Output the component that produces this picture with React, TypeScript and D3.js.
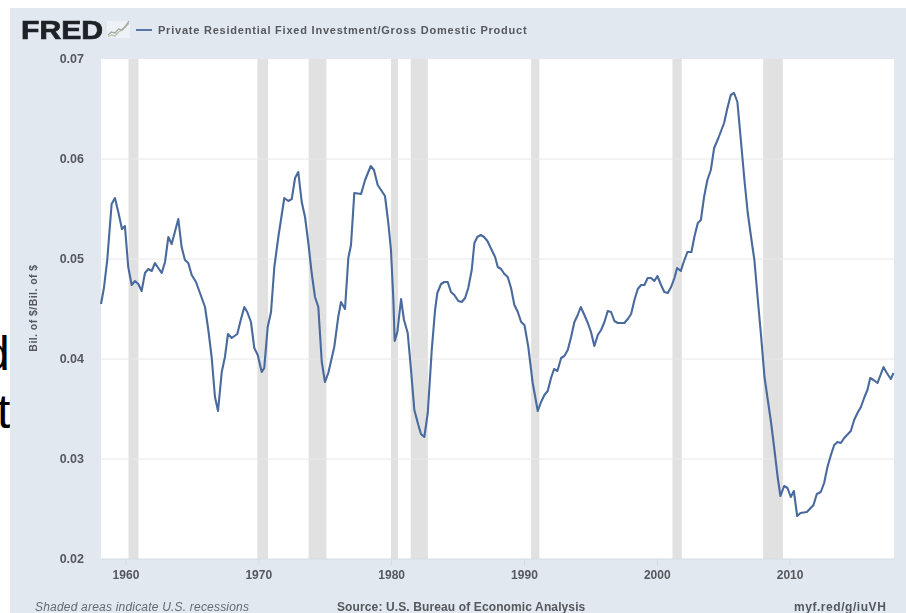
import React from "react";
import * as d3 from "d3";

const W = 906, H = 613;
const title = "Private Residential Fixed Investment/Gross Domestic Product";
const yAxisLabel = "Bil. of $/Bil. of $";
const yTicks = [0.02, 0.03, 0.04, 0.05, 0.06, 0.07];
const xTicks = [1960, 1970, 1980, 1990, 2000, 2010];
const recessions = [
  [1960.19, 1960.94], [1969.89, 1970.69], [1973.75, 1975.09], [1979.95, 1980.48],
  [1981.44, 1982.73], [1990.5, 1991.12], [2001.14, 2001.84], [2007.97, 2009.45],
];
const years = [
  1958.12, 1958.34, 1958.59, 1958.92, 1959.17, 1959.42, 1959.70, 1959.92, 1960.17, 1960.43,
  1960.68, 1960.93, 1961.18, 1961.43, 1961.68, 1961.94, 1962.18, 1962.43, 1962.69, 1962.94,
  1963.19, 1963.44, 1963.94, 1964.19, 1964.44, 1964.69, 1964.95, 1965.27, 1965.57, 1965.95,
  1966.20, 1966.45, 1966.70, 1966.93, 1967.21, 1967.45, 1967.68, 1967.96, 1968.38, 1968.64,
  1968.91, 1969.13, 1969.41, 1969.66, 1969.92, 1970.22, 1970.41, 1970.67, 1970.92, 1971.17,
  1971.47, 1971.92, 1972.22, 1972.48, 1972.73, 1972.97, 1973.23, 1973.48, 1973.73, 1973.98,
  1974.23, 1974.48, 1974.74, 1974.98, 1975.23, 1975.68, 1975.98, 1976.19, 1976.49, 1976.74,
  1976.94, 1977.19, 1977.70, 1978.00, 1978.43, 1978.67, 1978.95, 1979.50, 1979.75, 1979.95,
  1980.13, 1980.23, 1980.43, 1980.71, 1980.93, 1981.21, 1981.46, 1981.71, 1982.01, 1982.21,
  1982.46, 1982.72, 1983.02, 1983.27, 1983.44, 1983.72, 1983.97, 1984.22, 1984.47, 1984.72,
  1985.02, 1985.28, 1985.53, 1985.77, 1986.03, 1986.23, 1986.45, 1986.71, 1986.96, 1987.21,
  1987.46, 1987.79, 1987.99, 1988.24, 1988.49, 1988.74, 1988.99, 1989.24, 1989.50, 1989.75,
  1990.00, 1990.29, 1990.62, 1991.00, 1991.25, 1991.50, 1991.75, 1992.00, 1992.23, 1992.48,
  1992.76, 1993.00, 1993.26, 1993.51, 1993.76, 1994.01, 1994.24, 1994.51, 1994.77, 1995.01,
  1995.26, 1995.52, 1995.77, 1996.02, 1996.27, 1996.52, 1996.77, 1997.03, 1997.27, 1997.52,
  1997.78, 1998.03, 1998.28, 1998.53, 1998.78, 1999.03, 1999.28, 1999.53, 1999.78, 2000.01,
  2000.28, 2000.53, 2000.79, 2001.04, 2001.29, 2001.49, 2001.77, 2001.96, 2002.27, 2002.57,
  2002.79, 2003.05, 2003.28, 2003.52, 2003.77, 2004.03, 2004.28, 2004.60, 2005.03, 2005.28,
  2005.53, 2005.78, 2006.03, 2006.29, 2006.56, 2006.81, 2007.06, 2007.31, 2007.57, 2007.82,
  2008.07, 2008.32, 2008.57, 2008.82, 2009.07, 2009.27, 2009.55, 2009.80, 2010.05, 2010.28,
  2010.53, 2010.78, 2011.26, 2011.76, 2012.01, 2012.31, 2012.56, 2012.81, 2013.07, 2013.32,
  2013.57, 2013.82, 2014.07, 2014.57, 2014.82, 2015.07, 2015.33, 2015.57, 2015.82, 2016.03,
  2016.28, 2016.58, 2017.03, 2017.28, 2017.58, 2017.78,
];
const ratio = [
  .0455, .0471, .0499, .0555, .0561, .0547, .0530, .0533, .0492, .0474,
  .0478, .0475, .0468, .0486, .0490, .0488, .0496, .0491, .0486, .0497,
  .0522, .0515, .0540, .0512, .0499, .0496, .0484, .0477, .0466, .0452,
  .0429, .0402, .0362, .0348, .0387, .0402, .0425, .0421, .0425, .0439,
  .0452, .0447, .0437, .0411, .0404, .0387, .0391, .0432, .0447, .0492,
  .0522, .0561, .0558, .0560, .0581, .0587, .0557, .0542, .0516, .0486,
  .0462, .0452, .0397, .0377, .0386, .0412, .0442, .0457, .0450, .0501,
  .0514, .0566, .0565, .0579, .0593, .0589, .0574, .0563, .0536, .0509,
  .0459, .0418, .0427, .0460, .0439, .0426, .0389, .0349, .0334, .0325,
  .0322, .0346, .0409, .0449, .0466, .0475, .0477, .0477, .0467, .0464,
  .0458, .0457, .0461, .0471, .0489, .0516, .0522, .0524, .0522, .0518,
  .0511, .0502, .0492, .0490, .0485, .0482, .0471, .0454, .0447, .0437,
  .0434, .0412, .0376, .0348, .0357, .0364, .0368, .0381, .0390, .0388,
  .0401, .0403, .0409, .0422, .0437, .0444, .0452, .0444, .0436, .0427,
  .0413, .0424, .0429, .0437, .0448, .0447, .0438, .0436, .0436, .0436,
  .0440, .0445, .0459, .0470, .0474, .0474, .0481, .0481, .0478, .0483,
  .0474, .0467, .0466, .0472, .0481, .0491, .0488, .0496, .0507, .0507,
  .0522, .0536, .0539, .0562, .0579, .0589, .0611, .0621, .0636, .0651,
  .0664, .0666, .0657, .0619, .0579, .0546, .0522, .0499, .0459, .0422,
  .0382, .0359, .0336, .0309, .0281, .0263, .0273, .0271, .0262, .0268,
  .0243, .0246, .0247, .0254, .0265, .0267, .0276, .0292, .0304, .0314,
  .0317, .0316, .0321, .0328, .0339, .0346, .0352, .0361, .0369, .0381,
  .0379, .0376, .0392, .0386, .0380, .0386,
];
const sourceNote = "Source: U.S. Bureau of Economic Analysis";
const shadeNote = "Shaded areas indicate U.S. recessions";
const shortLink = "myf.red/g/iuVH";
const logoIconA = [1, 3, 2, 6, 8, 11, 15];
const logoIconB = [3, 6, 5, 9, 8, 12, 17];

const px0 = 101, px1 = 894, py0 = 59, py1 = 559;
const sans = "'Liberation Sans', Arial, sans-serif";
const grey = "#55585c";

export default function App() {
  const x = d3.scaleLinear().domain([1958.12, 2017.82]).range([px0, px1]);
  const y = d3.scaleLinear().domain([0.02, 0.07]).range([py1, py0]);
  const line = d3.line<number>().x((_, i) => x(years[i])).y((d) => y(d));
  const iconLine = d3.line<number>().x((_, i) => 108 + i * 3.5).y((d) => 38 - d);
  return (
    <svg width={W} height={H} viewBox={`0 0 ${W} ${H}`}
      style={{ position: "absolute", left: 0, top: 0, display: "block" }}>
      <defs>
        <filter id="soft" x="-2%" y="-2%" width="104%" height="104%">
          <feGaussianBlur stdDeviation="0.6" />
        </filter>
      </defs>
      <rect width={W} height={H} fill="#ffffff" />
      <text x={-17} y={370} fontFamily={sans} fontSize={48} fill="#000">d</text>
      <text x={-3} y={428} fontFamily={sans} fontSize={48} fill="#000">t</text>
      <g filter="url(#soft)">
        <rect x={10} y={8} width={W - 10} height={H - 8} fill="#e1e8f0" />
        <rect x={px0} y={py0} width={px1 - px0} height={py1 - py0} fill="#ffffff" />
        {recessions.map(([a, b], i) => (
          <rect key={i} x={x(a)} y={py0} width={x(b) - x(a)} height={py1 - py0} fill="#e1e1e1" />
        ))}
        {yTicks.slice(1, -1).map((t) => (
          <line key={t} x1={px0} x2={px1} y1={y(t)} y2={y(t)} stroke="#e8e8e8" strokeWidth={1} />
        ))}
        <line x1={px0} x2={px1} y1={py1} y2={py1} stroke="#d5dbe2" />
        {xTicks.map((t) => (
          <g key={t}>
            <line x1={x(t)} x2={x(t)} y1={py1} y2={py1 + 6} stroke="#d5dbe2" />
            <text x={x(t)} y={py1 + 20} textAnchor="middle" fontFamily={sans} fontSize={12}
              fontWeight={700} fill={grey}>{t}</text>
          </g>
        ))}
        {yTicks.map((t) => (
          <text key={t} x={84} y={y(t) + 4} textAnchor="end" fontFamily={sans} fontSize={12.5}
            fontWeight={700} fill={grey}>{t.toFixed(2)}</text>
        ))}
        <text transform="translate(36.5,308) rotate(-90)" textAnchor="middle" fontFamily={sans}
          fontSize={10.5} fontWeight={700} letterSpacing={0.45} fill={grey}>{yAxisLabel}</text>
        <path d={line(ratio) ?? ""} fill="none" stroke="#4a6a9c" strokeWidth={2.1} strokeLinejoin="round" />
        <text x={21} y={38.5} fontFamily={sans} fontSize={25} fontWeight={700} fill="#1f2226"
          stroke="#1f2226" strokeWidth={0.7} textLength={82} lengthAdjust="spacingAndGlyphs">FRED</text>
        <rect x={107} y={21} width={23} height={17} fill="#eef2f6" />
        <path d={iconLine(logoIconA) ?? ""} fill="none" stroke="#b9c4a8" strokeWidth={1.4} />
        <path d={iconLine(logoIconB) ?? ""} fill="none" stroke="#9aa6a0" strokeWidth={1.2} />
        <line x1={136} x2={152} y1={30} y2={30} stroke="#4a6a9c" strokeWidth={1.8} />
        <text x={158} y={34} fontFamily={sans} fontSize={11} fontWeight={700} letterSpacing={0.78} fill={grey}>{title}</text>
        <text x={35} y={611} fontFamily={sans} fontSize={12} fontStyle="italic" letterSpacing={0.2} fill="#666a70">{shadeNote}</text>
        <text x={337} y={611} fontFamily={sans} fontSize={12} fontWeight={700} letterSpacing={0.12} fill={grey}>{sourceNote}</text>
        <text x={794} y={611} fontFamily={sans} fontSize={12} fontWeight={700} letterSpacing={0.55} fill={grey}>{shortLink}</text>
      </g>
    </svg>
  );
}
